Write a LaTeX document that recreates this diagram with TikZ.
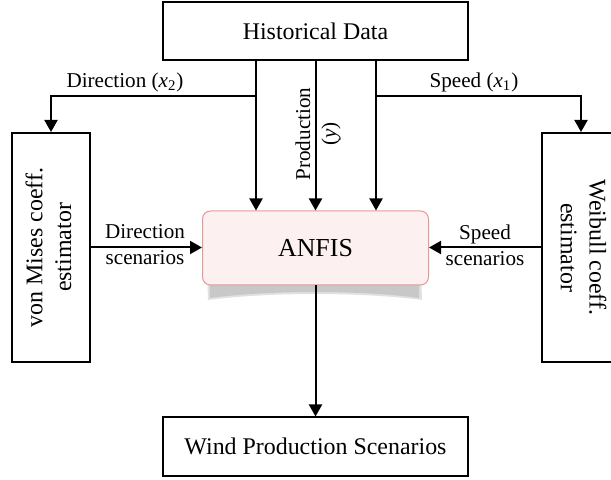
\documentclass[tikz,border=0pt]{standalone}
\usepackage{fontspec}
\setmainfont{Liberation Serif}
\usetikzlibrary{arrows.meta}
\definecolor{anfisfill}{RGB}{253,240,240}
\definecolor{anfisdraw}{RGB}{232,150,150}
\definecolor{shadowgray}{RGB}{200,200,200}
\definecolor{shadowlight}{RGB}{225,225,225}
\begin{document}
\begin{tikzpicture}[x=0.5bp,y=-0.5bp,
  box/.style={draw,line width=1bp,minimum width=152.5bp,minimum height=29bp,inner sep=0pt,font=\fontsize{12}{14.5}\selectfont},
  sidebox/.style={draw,line width=1bp,minimum width=39bp,minimum height=114.5bp,inner sep=0pt,font=\fontsize{12}{14.5}\selectfont},
  anfisbox/.style={draw=anfisdraw,fill=anfisfill,line width=0.5bp,rounded corners=4bp,minimum width=113bp,minimum height=37bp,inner sep=0pt,font=\fontsize{13}{15}\selectfont},
  lbl/.style={inner sep=0pt,font=\fontsize{10.6}{13}\selectfont,align=center},
  arr/.style={line width=1bp,-{Triangle[length=6bp,width=6.5bp]}}
]
\useasboundingbox (0,0) rectangle (611,480);
% curved shadow under ANFIS
\fill[shadowlight] (207,270) -- (421,270) -- (422,300) .. controls (360,292) and (270,292) .. (208,300) -- cycle;
\fill[shadowgray] (209,270) -- (419,270) -- (419,298) .. controls (360,290) and (270,290) .. (210,298) -- cycle;

\node[box] (hist) at (315.5,31) {Historical Data};
\node[anfisbox] (anfis) at (315.5,248) {ANFIS};
\node[sidebox] (vm) at (51,247.5) {\rotatebox{90}{\begin{tabular}{@{}c@{}}von Mises coeff.\\estimator\end{tabular}}};
\node[sidebox] (wb) at (581,247.5) {\rotatebox{-90}{\begin{tabular}{@{}c@{}}Weibull coeff.\\estimator\end{tabular}}};
\node[box] (wind) at (315.5,446.5) {Wind Production Scenarios};

\coordinate (jl) at (256,96);
\coordinate (jr) at (376,96);

\draw[arr] (hist.south -| jl) -- (anfis.north -| jl);
\draw[arr] (jl) -| (vm.north);
\draw[arr] (hist.south) -- (anfis.north);
\draw[arr] (hist.south -| jr) -- (anfis.north -| jr);
\draw[arr] (jr) -| (wb.north);
\draw[arr] (vm.east) -- (vm.east -| anfis.west);
\draw[arr] (wb.west) -- (wb.west -| anfis.east);
\draw[arr] (anfis.south) -- (wind.north);

\node[lbl] (ldir) at (125,82) {Direction (\textit{x}\textsubscript{2})};
\node[lbl] (lspd) at (474,82) {Speed (\textit{x}\textsubscript{1})};
\node[lbl] (lprod) at (318,134) {\rotatebox{90}{\begin{tabular}{@{}c@{}}Production\\(\textit{y})\end{tabular}}};
\node[lbl] (ldirs) at (145,245) {Direction\\scenarios};
\node[lbl] (lspds) at (485,245) {Speed\\scenarios};
\end{tikzpicture}
\end{document}
